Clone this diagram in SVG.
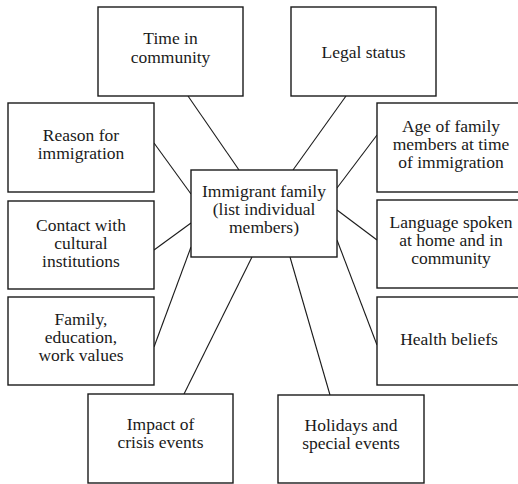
<svg xmlns="http://www.w3.org/2000/svg" width="518" height="484" viewBox="0 0 518 484">
  <style>
    .box { fill: #ffffff; stroke: #1a1a1a; stroke-width: 1.4; }
    .link { stroke: #1a1a1a; stroke-width: 1.1; fill: none; }
  </style>
  <rect x="0" y="0" width="518" height="484" fill="#ffffff"/>

  <g id="connectors">
    <line class="link" x1="188" y1="96" x2="239" y2="170"/>
    <line class="link" x1="346" y1="96" x2="293" y2="170"/>
    <line class="link" x1="154" y1="143" x2="191" y2="194"/>
    <line class="link" x1="154" y1="250" x2="191" y2="223"/>
    <line class="link" x1="191" y1="247" x2="154" y2="347"/>
    <line class="link" x1="252" y1="257" x2="184" y2="394"/>
    <line class="link" x1="290" y1="257" x2="330" y2="395"/>
    <line class="link" x1="337" y1="240" x2="377" y2="345"/>
    <line class="link" x1="337" y1="210" x2="377" y2="240"/>
    <line class="link" x1="337" y1="188" x2="377" y2="135"/>
  </g>

  <g id="center">
    <rect class="box" x="191" y="170" width="146" height="87"/>
    <text font-family="Liberation Serif, serif" font-size="17.5" fill="#1a1a1a" text-anchor="middle"><tspan x="264" y="197">Immigrant family</tspan><tspan x="264" y="215">(list individual</tspan><tspan x="264" y="233">members)</tspan></text>
  </g>

  <g id="time-in-community">
    <rect class="box" x="98" y="7" width="145" height="89"/>
    <text font-family="Liberation Serif, serif" font-size="17.5" fill="#1a1a1a" text-anchor="middle"><tspan x="170.5" y="44">Time in</tspan><tspan x="170.5" y="62.5">community</tspan></text>
  </g>

  <g id="legal-status">
    <rect class="box" x="291" y="7" width="145" height="89"/>
    <text font-family="Liberation Serif, serif" font-size="17.5" fill="#1a1a1a" text-anchor="middle"><tspan x="363.5" y="58">Legal status</tspan></text>
  </g>

  <g id="reason">
    <rect class="box" x="8" y="103" width="146" height="89"/>
    <text font-family="Liberation Serif, serif" font-size="17.5" fill="#1a1a1a" text-anchor="middle"><tspan x="81" y="140.5">Reason for</tspan><tspan x="81" y="159">immigration</tspan></text>
  </g>

  <g id="age">
    <rect class="box" x="377" y="103" width="146" height="89"/>
    <text font-family="Liberation Serif, serif" font-size="17.5" fill="#1a1a1a" text-anchor="middle"><tspan x="451" y="132">Age of family</tspan><tspan x="451" y="150">members at time</tspan><tspan x="451" y="168">of immigration</tspan></text>
  </g>

  <g id="contact">
    <rect class="box" x="8" y="201" width="146" height="88"/>
    <text font-family="Liberation Serif, serif" font-size="17.5" fill="#1a1a1a" text-anchor="middle"><tspan x="81" y="231">Contact with</tspan><tspan x="81" y="249">cultural</tspan><tspan x="81" y="267">institutions</tspan></text>
  </g>

  <g id="language">
    <rect class="box" x="377" y="200" width="146" height="88"/>
    <text font-family="Liberation Serif, serif" font-size="17.5" fill="#1a1a1a" text-anchor="middle"><tspan x="451" y="228">Language spoken</tspan><tspan x="451" y="246">at home and in</tspan><tspan x="451" y="264">community</tspan></text>
  </g>

  <g id="values">
    <rect class="box" x="8" y="297" width="146" height="88"/>
    <text font-family="Liberation Serif, serif" font-size="17.5" fill="#1a1a1a" text-anchor="middle"><tspan x="81" y="325">Family,</tspan><tspan x="81" y="343">education,</tspan><tspan x="81" y="361">work values</tspan></text>
  </g>

  <g id="health">
    <rect class="box" x="377" y="297" width="146" height="88"/>
    <text font-family="Liberation Serif, serif" font-size="17.5" fill="#1a1a1a" text-anchor="middle"><tspan x="449" y="345">Health beliefs</tspan></text>
  </g>

  <g id="crisis">
    <rect class="box" x="88" y="394" width="145" height="89"/>
    <text font-family="Liberation Serif, serif" font-size="17.5" fill="#1a1a1a" text-anchor="middle"><tspan x="160.5" y="429.5">Impact of</tspan><tspan x="160.5" y="448">crisis events</tspan></text>
  </g>

  <g id="holidays">
    <rect class="box" x="278" y="395" width="146" height="88"/>
    <text font-family="Liberation Serif, serif" font-size="17.5" fill="#1a1a1a" text-anchor="middle"><tspan x="351" y="430.5">Holidays and</tspan><tspan x="351" y="449">special events</tspan></text>
  </g>
</svg>
